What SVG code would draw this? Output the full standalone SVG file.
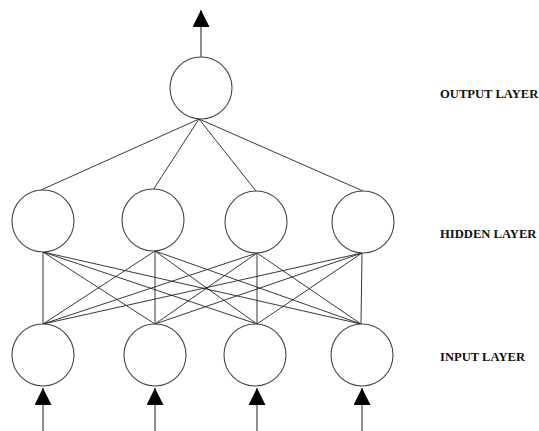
<svg xmlns="http://www.w3.org/2000/svg" width="539" height="431" viewBox="0 0 539 431">
<style>
.node{fill:#fff;stroke:#444;stroke-width:1.1}
.edge{stroke:#222;stroke-width:0.9;fill:none}
.arr{stroke:#333;stroke-width:1.1;fill:none;marker-end:url(#ah)}
.lbl{font-family:"Liberation Serif","Times New Roman",serif;font-weight:bold;font-size:12.6px;fill:#111}
</style>
<defs>
<marker id="ah" markerUnits="userSpaceOnUse" markerWidth="18" markerHeight="18" refX="17" refY="8.5" orient="auto">
<path d="M0,0 L17,8.5 L0,17 z" fill="#000"/>
</marker>
</defs>
<rect width="539" height="431" fill="#fff"/>
<g id="connectors">
<line class="edge" x1="199" y1="119" x2="41" y2="190"/>
<line class="edge" x1="199" y1="119" x2="153" y2="190"/>
<line class="edge" x1="199" y1="119" x2="256" y2="191"/>
<line class="edge" x1="199" y1="119" x2="363" y2="191"/>
<line class="edge" x1="43" y1="252" x2="43" y2="324"/>
<line class="edge" x1="43" y1="252" x2="155" y2="324"/>
<line class="edge" x1="43" y1="252" x2="257" y2="324"/>
<line class="edge" x1="43" y1="252" x2="361" y2="324"/>
<line class="edge" x1="155" y1="251" x2="43" y2="324"/>
<line class="edge" x1="155" y1="251" x2="155" y2="324"/>
<line class="edge" x1="155" y1="251" x2="257" y2="324"/>
<line class="edge" x1="155" y1="251" x2="361" y2="324"/>
<line class="edge" x1="257" y1="253" x2="43" y2="324"/>
<line class="edge" x1="257" y1="253" x2="155" y2="324"/>
<line class="edge" x1="257" y1="253" x2="257" y2="324"/>
<line class="edge" x1="257" y1="253" x2="361" y2="324"/>
<line class="edge" x1="362" y1="253" x2="43" y2="324"/>
<line class="edge" x1="362" y1="253" x2="155" y2="324"/>
<line class="edge" x1="362" y1="253" x2="257" y2="324"/>
<line class="edge" x1="362" y1="253" x2="361" y2="324"/>
<line class="arr" x1="201" y1="57" x2="201" y2="10"/>
<line class="arr" x1="43" y1="431" x2="43" y2="388"/>
<line class="arr" x1="155" y1="431" x2="155" y2="388"/>
<line class="arr" x1="257" y1="431" x2="257" y2="388"/>
<line class="arr" x1="362" y1="431" x2="362" y2="388"/>
</g>
<g id="output"><circle class="node" cx="201" cy="88" r="31"/></g>
<g id="h1"><circle class="node" cx="43" cy="221" r="31"/></g>
<g id="h2"><circle class="node" cx="153" cy="220" r="31"/></g>
<g id="h3"><circle class="node" cx="256" cy="222" r="31"/></g>
<g id="h4"><circle class="node" cx="363" cy="222" r="31"/></g>
<g id="i1"><circle class="node" cx="43" cy="355" r="31"/></g>
<g id="i2"><circle class="node" cx="155" cy="355" r="31"/></g>
<g id="i3"><circle class="node" cx="255" cy="355" r="31"/></g>
<g id="i4"><circle class="node" cx="362" cy="355" r="31"/></g>
<g id="labels">
<text class="lbl" x="440" y="98">OUTPUT LAYER</text>
<text class="lbl" x="440" y="238">HIDDEN LAYER</text>
<text class="lbl" x="440" y="361">INPUT LAYER</text>
</g>
</svg>
